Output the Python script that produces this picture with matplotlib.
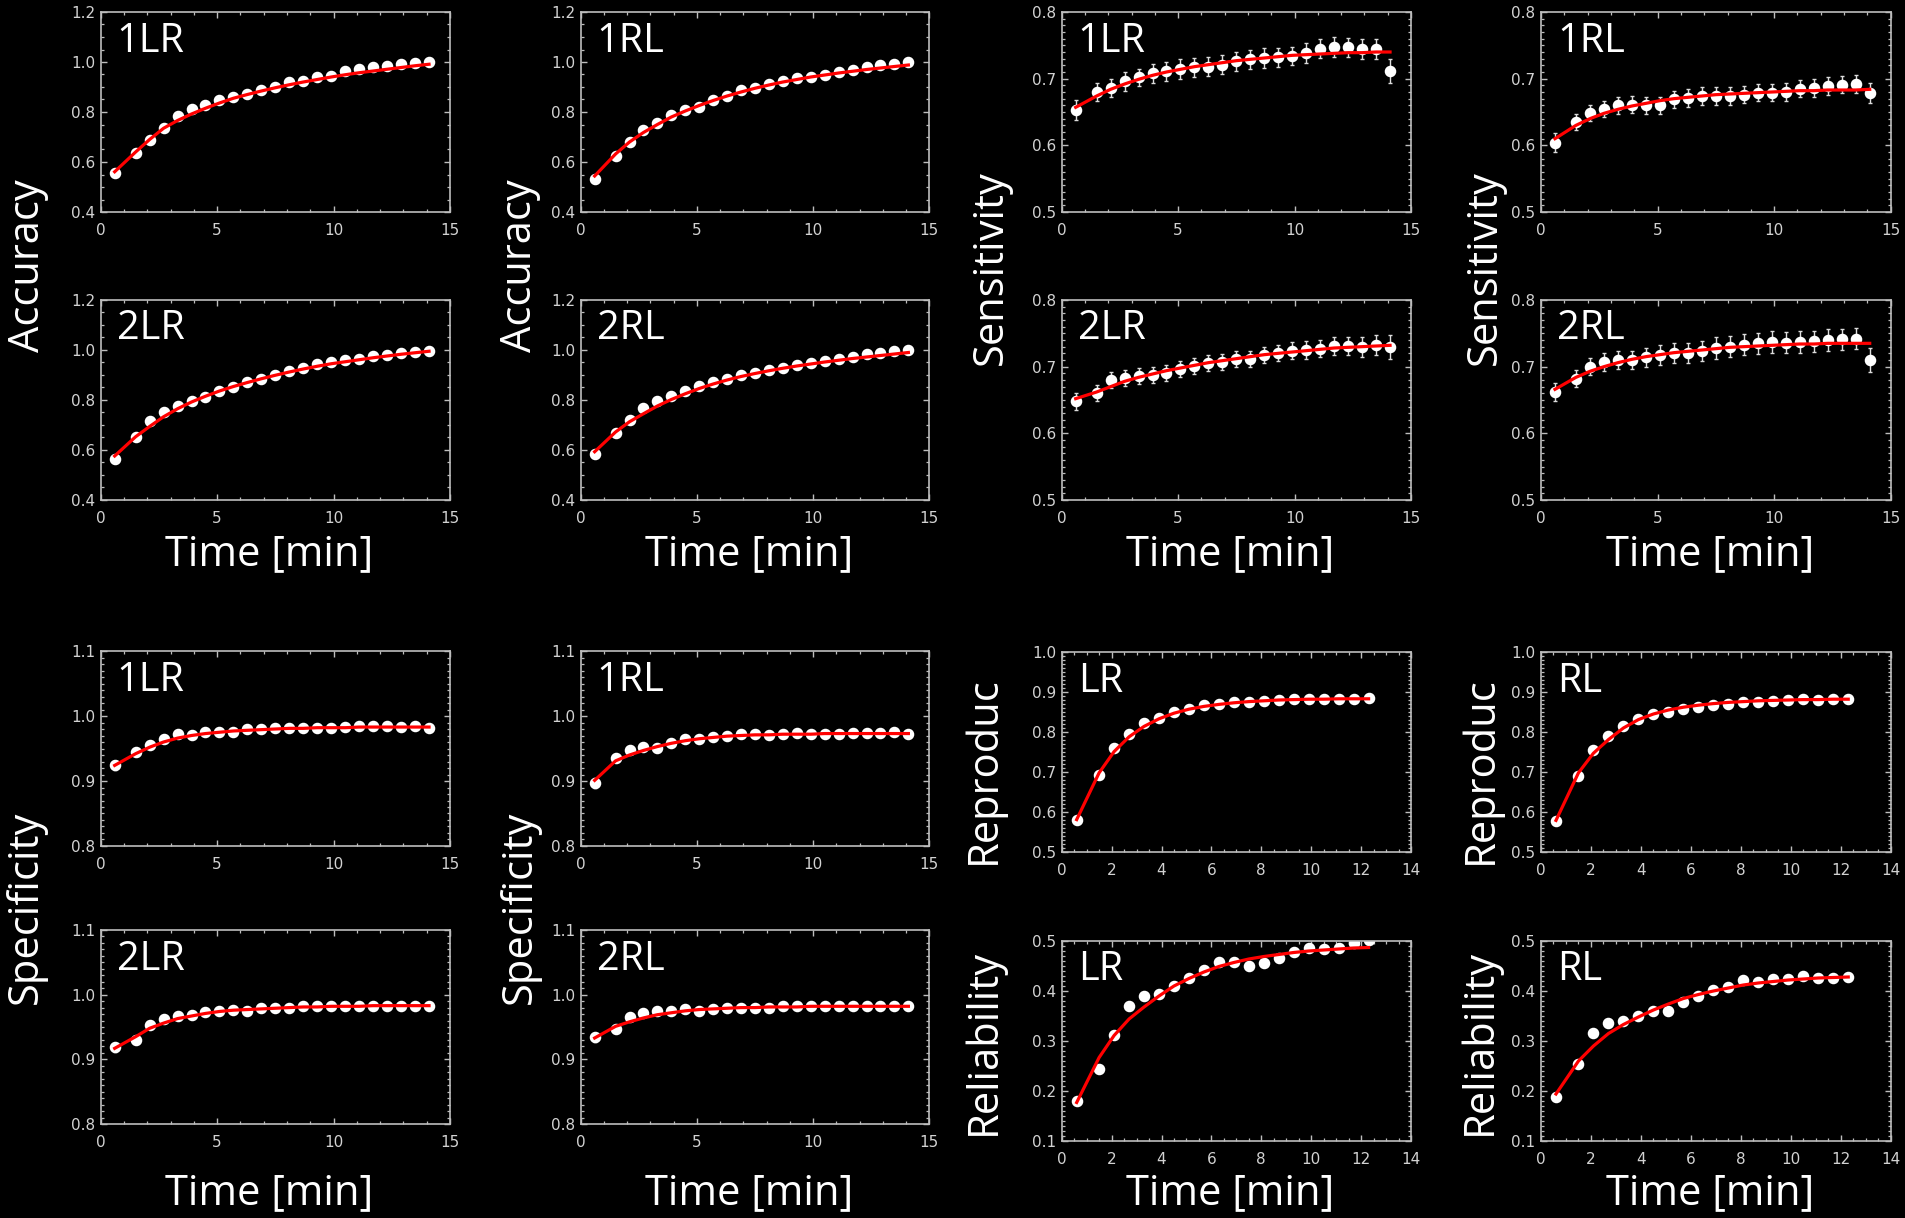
import matplotlib
matplotlib.use("Agg")
import matplotlib.pyplot as plt
from matplotlib.ticker import MultipleLocator, FormatStrFormatter

# ---------------- data ----------------
x14 = [0.6, 1.5, 2.1, 2.7, 3.3, 3.9, 4.5, 5.1, 5.7, 6.3, 6.9, 7.5, 8.1, 8.7,
       9.3, 9.9, 10.5, 11.1, 11.7, 12.3, 12.9, 13.5, 14.1]
x12 = [0.6, 1.5, 2.1, 2.7, 3.3, 3.9, 4.5, 5.1, 5.7, 6.3, 6.9, 7.5, 8.1, 8.7,
       9.3, 9.9, 10.5, 11.1, 11.7, 12.3]

# Accuracy
acc_1LR = [0.557, 0.635, 0.688, 0.735, 0.783, 0.812, 0.827, 0.847, 0.860, 0.872, 0.887, 0.900,
           0.919, 0.924, 0.939, 0.945, 0.963, 0.972, 0.981, 0.985, 0.993, 0.996, 1.000]
acc_1LR_fit = [0.561, 0.640, 0.690, 0.735, 0.766, 0.792, 0.815, 0.836, 0.855, 0.870, 0.884, 0.897,
               0.909, 0.920, 0.930, 0.940, 0.949, 0.957, 0.964, 0.971, 0.978, 0.985, 0.991]
acc_2LR = [0.563, 0.650, 0.714, 0.751, 0.777, 0.797, 0.813, 0.836, 0.853, 0.870, 0.884, 0.898,
           0.915, 0.929, 0.942, 0.950, 0.958, 0.964, 0.976, 0.981, 0.987, 0.993, 0.997]
acc_2LR_fit = [0.576, 0.653, 0.694, 0.733, 0.765, 0.792, 0.815, 0.836, 0.854, 0.870, 0.885, 0.899,
               0.912, 0.924, 0.935, 0.945, 0.953, 0.961, 0.969, 0.976, 0.983, 0.989, 0.995]
acc_1RL = [0.531, 0.626, 0.682, 0.727, 0.757, 0.789, 0.808, 0.822, 0.847, 0.864, 0.888, 0.898,
           0.914, 0.925, 0.935, 0.941, 0.948, 0.960, 0.970, 0.980, 0.987, 0.993, 0.999]
acc_1RL_fit = [0.544, 0.632, 0.680, 0.718, 0.750, 0.780, 0.804, 0.826, 0.846, 0.864, 0.880, 0.895,
               0.908, 0.920, 0.930, 0.940, 0.948, 0.956, 0.963, 0.970, 0.976, 0.982, 0.988]
acc_2RL = [0.584, 0.667, 0.720, 0.768, 0.794, 0.816, 0.837, 0.855, 0.872, 0.885, 0.899, 0.908,
           0.918, 0.929, 0.938, 0.947, 0.955, 0.964, 0.972, 0.984, 0.987, 0.995, 1.000]
acc_2RL_fit = [0.593, 0.672, 0.713, 0.745, 0.776, 0.802, 0.825, 0.846, 0.864, 0.880, 0.894, 0.906,
               0.917, 0.927, 0.936, 0.944, 0.952, 0.959, 0.966, 0.972, 0.978, 0.984, 0.990]
acc_err = [0.014, 0.012, 0.011, 0.010, 0.009, 0.009, 0.008, 0.008, 0.008, 0.007, 0.007, 0.007,
           0.007, 0.006, 0.006, 0.006, 0.006, 0.006, 0.005, 0.005, 0.005, 0.005, 0.005]

# Sensitivity
sens_1LR = [0.653, 0.680, 0.686, 0.696, 0.702, 0.708, 0.711, 0.714, 0.717, 0.718, 0.721, 0.726,
            0.729, 0.731, 0.732, 0.734, 0.739, 0.745, 0.747, 0.747, 0.745, 0.745, 0.711]
sens_1LR_fit = [0.657, 0.674, 0.684, 0.692, 0.699, 0.705, 0.710, 0.714, 0.718, 0.721, 0.724, 0.727,
                0.729, 0.731, 0.733, 0.735, 0.736, 0.737, 0.738, 0.739, 0.739, 0.740, 0.740]
sens_1LR_err = [0.015, 0.014, 0.013, 0.014, 0.013, 0.014, 0.014, 0.015, 0.014, 0.014, 0.014, 0.014,
                0.014, 0.015, 0.014, 0.014, 0.015, 0.014, 0.015, 0.014, 0.015, 0.015, 0.018]
sens_2LR = [0.648, 0.661, 0.680, 0.683, 0.686, 0.688, 0.690, 0.696, 0.701, 0.705, 0.707, 0.711,
            0.712, 0.718, 0.721, 0.724, 0.725, 0.727, 0.731, 0.731, 0.729, 0.732, 0.729]
sens_2LR_fit = [0.652, 0.662, 0.670, 0.678, 0.684, 0.689, 0.694, 0.698, 0.702, 0.706, 0.709, 0.712,
                0.715, 0.718, 0.720, 0.722, 0.724, 0.726, 0.728, 0.729, 0.730, 0.731, 0.732]
sens_2LR_err = [0.013, 0.012, 0.012, 0.012, 0.012, 0.012, 0.012, 0.012, 0.012, 0.012, 0.012, 0.012,
                0.012, 0.012, 0.012, 0.013, 0.013, 0.013, 0.014, 0.014, 0.015, 0.015, 0.018]
sens_1RL = [0.604, 0.635, 0.648, 0.654, 0.660, 0.661, 0.660, 0.660, 0.669, 0.671, 0.674, 0.674,
            0.674, 0.676, 0.679, 0.679, 0.680, 0.685, 0.686, 0.689, 0.691, 0.692, 0.679]
sens_1RL_fit = [0.610, 0.630, 0.640, 0.648, 0.654, 0.659, 0.663, 0.667, 0.670, 0.672, 0.674, 0.676,
                0.677, 0.678, 0.679, 0.680, 0.681, 0.682, 0.682, 0.683, 0.683, 0.683, 0.684]
sens_1RL_err = [0.014, 0.012, 0.012, 0.012, 0.013, 0.013, 0.013, 0.013, 0.013, 0.013, 0.013, 0.013,
                0.013, 0.013, 0.013, 0.013, 0.013, 0.013, 0.013, 0.013, 0.013, 0.013, 0.015]
sens_2RL = [0.662, 0.682, 0.700, 0.707, 0.710, 0.710, 0.714, 0.717, 0.721, 0.721, 0.724, 0.728,
            0.730, 0.733, 0.735, 0.737, 0.736, 0.737, 0.738, 0.740, 0.741, 0.742, 0.710]
sens_2RL_fit = [0.666, 0.684, 0.693, 0.700, 0.706, 0.711, 0.715, 0.718, 0.721, 0.723, 0.725, 0.727,
                0.729, 0.730, 0.731, 0.732, 0.733, 0.734, 0.734, 0.735, 0.735, 0.735, 0.735]
sens_2RL_err = [0.013, 0.013, 0.013, 0.013, 0.014, 0.013, 0.014, 0.015, 0.015, 0.015, 0.015, 0.016,
                0.016, 0.016, 0.016, 0.016, 0.016, 0.016, 0.016, 0.016, 0.016, 0.016, 0.018]

# Specificity
spec_1LR = [0.924, 0.944, 0.956, 0.964, 0.972, 0.971, 0.975, 0.975, 0.976, 0.980, 0.980, 0.982,
            0.982, 0.982, 0.982, 0.982, 0.983, 0.985, 0.984, 0.984, 0.983, 0.984, 0.981]
spec_1LR_fit = [0.924, 0.942, 0.952, 0.960, 0.966, 0.970, 0.973, 0.975, 0.977, 0.978, 0.979, 0.980,
                0.981, 0.981, 0.982, 0.982, 0.982, 0.983, 0.983, 0.983, 0.983, 0.983, 0.983]
spec_2LR = [0.919, 0.930, 0.953, 0.962, 0.967, 0.969, 0.973, 0.974, 0.976, 0.975, 0.979, 0.979,
            0.979, 0.982, 0.983, 0.983, 0.983, 0.983, 0.983, 0.983, 0.983, 0.983, 0.982]
spec_2LR_fit = [0.917, 0.935, 0.948, 0.956, 0.963, 0.967, 0.971, 0.974, 0.976, 0.977, 0.978, 0.979,
                0.980, 0.981, 0.981, 0.982, 0.982, 0.982, 0.983, 0.983, 0.983, 0.983, 0.983]
spec_1RL = [0.897, 0.935, 0.947, 0.952, 0.951, 0.958, 0.965, 0.965, 0.968, 0.969, 0.972, 0.973,
            0.971, 0.973, 0.974, 0.973, 0.973, 0.973, 0.974, 0.974, 0.974, 0.976, 0.972]
spec_1RL_fit = [0.901, 0.931, 0.940, 0.947, 0.953, 0.958, 0.962, 0.965, 0.967, 0.969, 0.970, 0.971,
                0.971, 0.972, 0.972, 0.972, 0.973, 0.973, 0.973, 0.973, 0.973, 0.973, 0.973]
spec_2RL = [0.934, 0.947, 0.965, 0.971, 0.975, 0.975, 0.978, 0.975, 0.978, 0.979, 0.979, 0.979,
            0.980, 0.982, 0.982, 0.982, 0.982, 0.983, 0.983, 0.983, 0.983, 0.983, 0.982]
spec_2RL_fit = [0.933, 0.951, 0.958, 0.964, 0.969, 0.972, 0.975, 0.977, 0.978, 0.979, 0.980, 0.980,
                0.981, 0.981, 0.981, 0.982, 0.982, 0.982, 0.982, 0.982, 0.982, 0.982, 0.982]
spec_err = [0.007, 0.005, 0.004, 0.004, 0.004, 0.004, 0.004, 0.004, 0.004, 0.004, 0.004, 0.004,
            0.004, 0.004, 0.004, 0.004, 0.004, 0.004, 0.004, 0.004, 0.004, 0.004, 0.004]

# Reproducibility / Reliability
rep_LR = [0.581, 0.692, 0.760, 0.796, 0.823, 0.836, 0.850, 0.857, 0.867, 0.871, 0.874, 0.876,
          0.878, 0.880, 0.882, 0.883, 0.883, 0.883, 0.883, 0.884]
rep_LR_fit = [0.581, 0.698, 0.751, 0.788, 0.814, 0.833, 0.847, 0.857, 0.864, 0.869, 0.873, 0.876,
              0.878, 0.880, 0.881, 0.882, 0.882, 0.883, 0.883, 0.883]
rep_RL = [0.577, 0.691, 0.755, 0.790, 0.815, 0.832, 0.845, 0.851, 0.857, 0.863, 0.868, 0.871,
          0.874, 0.875, 0.877, 0.879, 0.882, 0.881, 0.882, 0.882]
rep_RL_fit = [0.579, 0.698, 0.747, 0.781, 0.810, 0.831, 0.845, 0.855, 0.862, 0.867, 0.871, 0.874,
              0.876, 0.878, 0.879, 0.880, 0.881, 0.881, 0.882, 0.882]
rel_LR = [0.180, 0.244, 0.312, 0.370, 0.390, 0.395, 0.410, 0.427, 0.442, 0.459, 0.459, 0.451,
          0.456, 0.466, 0.478, 0.487, 0.484, 0.487, 0.497, 0.502]
rel_LR_fit = [0.177, 0.267, 0.311, 0.344, 0.368, 0.390, 0.410, 0.425, 0.438, 0.449, 0.457, 0.464,
              0.469, 0.473, 0.477, 0.480, 0.482, 0.484, 0.486, 0.487]
rel_RL = [0.188, 0.255, 0.316, 0.337, 0.340, 0.351, 0.361, 0.361, 0.379, 0.390, 0.403, 0.408,
          0.423, 0.419, 0.425, 0.425, 0.430, 0.426, 0.426, 0.428]
rel_RL_fit = [0.194, 0.260, 0.290, 0.315, 0.333, 0.348, 0.362, 0.374, 0.385, 0.393, 0.400, 0.406,
              0.412, 0.416, 0.419, 0.422, 0.424, 0.426, 0.427, 0.428]

# ---------------- figure ----------------
W, H = 1905, 1218
fig = plt.figure(figsize=(W / 100, H / 100), dpi=100, facecolor="black")

BIG = ["Open Sans", "DejaVu Sans"]
AXC = "#bdbdbd"
TICKC = "#d2d2d2"


def add_panel(left, top, right, bottom, x, y, fit, err, ylim, ymaj, ymin,
              xlim, xmaj, xmin, label):
    ax = fig.add_axes([left / W, 1 - bottom / H, (right - left) / W, (bottom - top) / H])
    ax.set_facecolor("black")
    if err is not None:
        ax.errorbar(x, y, yerr=err, fmt="o", color="white", ecolor="#dddddd",
                    markersize=7.3, elinewidth=1.0, capsize=1.6, capthick=1.0, zorder=2)
    else:
        ax.plot(x, y, "o", color="white", markersize=7.3, zorder=2)
    ax.plot(x, fit, color="red", lw=2.3, zorder=3)
    ax.set_xlim(*xlim)
    ax.set_ylim(*ylim)
    ax.xaxis.set_major_locator(MultipleLocator(xmaj))
    ax.xaxis.set_minor_locator(MultipleLocator(xmin))
    ax.yaxis.set_major_locator(MultipleLocator(ymaj))
    ax.yaxis.set_minor_locator(MultipleLocator(ymin))
    ax.yaxis.set_major_formatter(FormatStrFormatter("%.1f"))
    ax.xaxis.set_major_formatter(FormatStrFormatter("%d"))
    for s in ax.spines.values():
        s.set_color(AXC)
        s.set_linewidth(1.2)
    ax.tick_params(which="both", direction="in", top=True, right=True,
                   color=AXC, labelcolor=TICKC, labelsize=11)
    ax.tick_params(which="major", length=4.0, width=1.0)
    ax.tick_params(which="minor", length=2.3, width=0.9)
    ax.tick_params(axis="y", pad=4)
    ax.tick_params(axis="x", pad=8)
    ax.annotate(label, xy=(0, 1), xycoords="axes fraction", xytext=(16, -9),
                textcoords="offset pixels", ha="left", va="top", color="white",
                fontsize=28.5, family=BIG)
    return ax


cols = [(100.7, 450.0), (580.7, 929.3), (1061.7, 1411.0), (1541.0, 1890.7)]
xl14 = (0, 15)

# top block
top_rows = [(12, 212), (300, 500)]
top_data = [
    [(acc_1LR, acc_1LR_fit, acc_err, "1LR"), (acc_2LR, acc_2LR_fit, acc_err, "2LR")],
    [(acc_1RL, acc_1RL_fit, acc_err, "1RL"), (acc_2RL, acc_2RL_fit, acc_err, "2RL")],
    [(sens_1LR, sens_1LR_fit, sens_1LR_err, "1LR"), (sens_2LR, sens_2LR_fit, sens_2LR_err, "2LR")],
    [(sens_1RL, sens_1RL_fit, sens_1RL_err, "1RL"), (sens_2RL, sens_2RL_fit, sens_2RL_err, "2RL")],
]
for ci, (l, r) in enumerate(cols):
    for ri, (t, b) in enumerate(top_rows):
        y, f, e, lab = top_data[ci][ri]
        if ci < 2:
            add_panel(l, t, r, b, x14, y, f, e, (0.4, 1.2), 0.2, 0.05, xl14, 5, 1, lab)
        else:
            add_panel(l, t, r, b, x14, y, f, e, (0.5, 0.8), 0.1, 0.01, xl14, 5, 1, lab)

# bottom block: specificity
spec_rows = [(651, 846), (930, 1124)]
spec_data = [
    [(spec_1LR, spec_1LR_fit, "1LR"), (spec_2LR, spec_2LR_fit, "2LR")],
    [(spec_1RL, spec_1RL_fit, "1RL"), (spec_2RL, spec_2RL_fit, "2RL")],
]
for ci in range(2):
    l, r = cols[ci]
    for ri, (t, b) in enumerate(spec_rows):
        y, f, lab = spec_data[ci][ri]
        add_panel(l, t, r, b, x14, y, f, spec_err, (0.8, 1.1), 0.1, 0.01, xl14, 5, 1, lab)

# bottom block: reproducibility / reliability
rr_rows = [(652, 852), (941, 1141)]
for ci, (rep, repf, rel, relf, lab) in zip(
        [2, 3], [(rep_LR, rep_LR_fit, rel_LR, rel_LR_fit, "LR"),
                 (rep_RL, rep_RL_fit, rel_RL, rel_RL_fit, "RL")]):
    l, r = cols[ci]
    add_panel(l, rr_rows[0][0], r, rr_rows[0][1], x12, rep, repf, None,
              (0.5, 1.0), 0.1, 0.01, (0, 14), 2, 0.5, lab)
    add_panel(l, rr_rows[1][0], r, rr_rows[1][1], x12, rel, relf, None,
              (0.1, 0.5), 0.1, 0.01, (0, 14), 2, 0.5, lab)


def ftext(xp, yp, s, rot=0):
    fig.text(xp / W, 1 - yp / H, s, rotation=rot, ha="center", va="center",
             color="white", fontsize=30, family=BIG)


# y labels
ftext(28, 266, "Accuracy", 90)
ftext(520, 266, "Accuracy", 90)
ftext(991, 268, "Sensitivity", 90)
ftext(1485, 268, "Sensitivity", 90)
ftext(26, 907, "Specificity", 90)
ftext(520, 907, "Specificity", 90)
ftext(984, 770, "Reproduc", 90)
ftext(1481, 770, "Reproduc", 90)
ftext(984, 1042, "Reliability", 90)
ftext(1480, 1042, "Reliability", 90)

# x labels
for (l, r) in cols:
    ftext((l + r) / 2 - 6, 554, "Time [min]")
    ftext((l + r) / 2 - 6, 1193, "Time [min]")

fig.savefig("out.png", dpi=100, facecolor="black")
